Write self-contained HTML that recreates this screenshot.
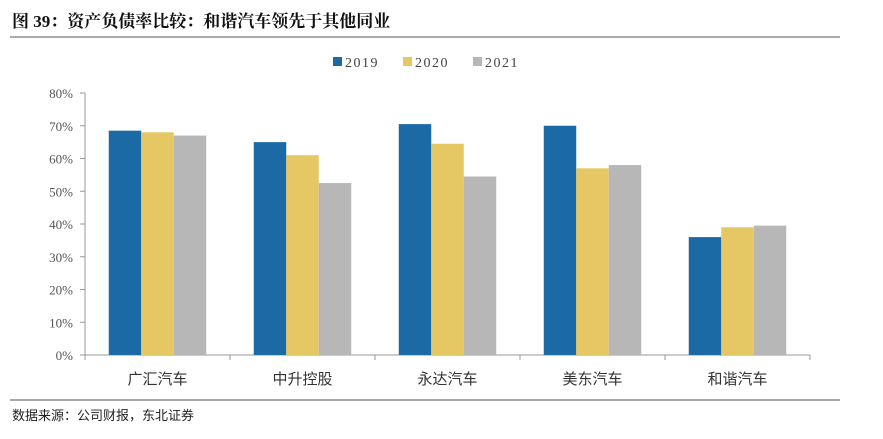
<!DOCTYPE html>
<html><head><meta charset="utf-8"><style>
body{margin:0;background:#fff;width:883px;height:434px;overflow:hidden;font-family:"Liberation Serif","Noto Serif CJK SC",serif}
</style></head><body>
<svg width="883" height="434">
<text x="12" y="27" font-size="17" font-weight="bold" font-family="Liberation Serif,Noto Serif CJK SC,serif" fill="#111">图  39：资产负债率比较：和谐汽车领先于其他同业</text>
<line x1="10" y1="37" x2="840" y2="37" stroke="#555" stroke-width="1"/>
<g id="legend"></g>
<g id="axes"></g>
<g id="bars"></g>
<line x1="10" y1="400" x2="840" y2="400" stroke="#555" stroke-width="1"/>
<text x="12" y="420" font-size="13" font-family="Liberation Sans,Noto Sans CJK SC,sans-serif" fill="#222">数据来源：公司财报，东北证券</text>
</svg>
<script>
const categories=["广汇汽车","中升控股","永达汽车","美东汽车","和谐汽车"];
const seriesNames=["2019","2020","2021"];
const s2019=[68.5,65,70.5,70,36];
const s2020=[68,61,64.5,57,39];
const s2021=[67,52.5,54.5,58,39.5];
const yTicks=[0,10,20,30,40,50,60,70,80];
const colors=["#1b6aa5","#e5c763","#b7b7b7"];
const series=[s2019,s2020,s2021];
const NS="http://www.w3.org/2000/svg";
const x0=85,x1=810,y0=355,yTop=93,ymax=80;
const cw=(x1-x0)/categories.length,bw=32.5;
const y=v=>y0-(v/ymax)*(y0-yTop);
function mk(t,a,p){const e=document.createElementNS(NS,t);for(const k in a)e.setAttribute(k,a[k]);p.appendChild(e);return e;}
const ax=document.getElementById('axes'),bg=document.getElementById('bars'),lg=document.getElementById('legend');
const yl=mk('line',{x1:x0,y1:yTop,x2:x0,y2:y0,stroke:'#999'},ax);


yTicks.forEach(t=>{
 mk('line',{x1:x0-5,y1:y(t),x2:x0,y2:y(t),stroke:'#999'},ax);
 const tx=mk('text',{x:x0-12,y:y(t)+5,'text-anchor':'end','font-size':13,fill:'#555'},ax);
 tx.textContent=t+'%';
 
 
});
const xl=mk('line',{x1:x0,y1:y0,x2:x1,y2:y0,stroke:'#999'},ax);


for(let i=0;i<=categories.length;i++)mk('line',{x1:x0+i*cw,y1:y0,x2:x0+i*cw,y2:y0+5,stroke:'#999'},ax);
categories.forEach((c,i)=>{
 const cx=x0+cw*(i+0.5);
 const tx=mk('text',{x:cx,y:384,'text-anchor':'middle','font-size':15,fill:'#333','font-family':'Liberation Sans,Noto Sans CJK SC,sans-serif'},ax);
 tx.textContent=c;
 
 
 series.forEach((s,j)=>{
  const r=mk('rect',{x:cx-1.5*bw+j*bw,y:y(s[i]),width:bw,height:y0-y(s[i]),fill:colors[j]},bg);
  
  
 });
});
const lx=[333,403,473];
seriesNames.forEach((n,j)=>{
 const r=mk('rect',{x:lx[j],y:57,width:9,height:9,fill:colors[j]},lg);
 
 
 const t=mk('text',{x:lx[j]+12,y:67,'font-size':14,fill:'#444','letter-spacing':'1.5'},lg);
 t.textContent=n;
 
 
});
</script>
</body></html>
